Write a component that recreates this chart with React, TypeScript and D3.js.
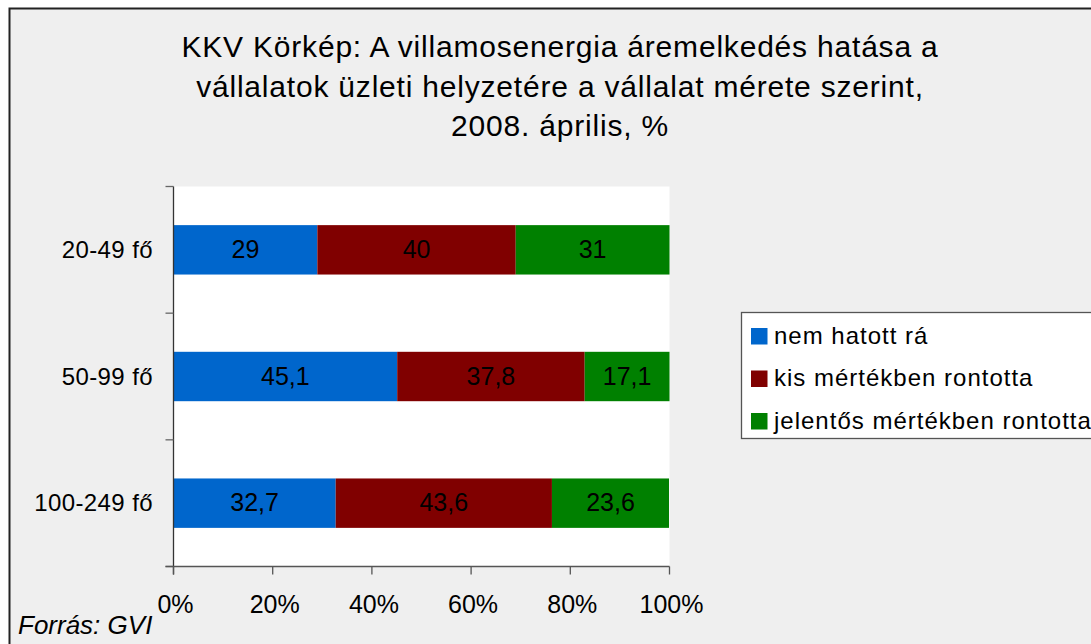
import React, { useRef, useEffect } from 'react';
import * as d3 from 'd3';

const categories = ['20-49 fő', '50-99 fő', '100-249 fő'];
const seriesNames = ['nem hatott rá', 'kis mértékben rontotta', 'jelentős mértékben rontotta'];
const nemHatott = [29, 45.1, 32.7];
const kisMertekben = [40, 37.8, 43.6];
const jelentos = [31, 17.1, 23.6];
const xTicks = [0, 20, 40, 60, 80, 100];
const titleLines = [
  'KKV Körkép: A villamosenergia áremelkedés hatása a',
  'vállalatok üzleti helyzetére a vállalat mérete szerint,',
  '2008. április, %',
];
const colors = ['#0066cc', '#800000', '#008000'];

const W = 1091;
const H = 644;

function App() {
  const ref = useRef<SVGSVGElement | null>(null);

  useEffect(() => {
    drawChart();
  }, []);

  function drawChart() {
    const svg = d3.select(ref.current);
    svg.selectAll('*').remove();
    const font = '"Liberation Sans", Arial, sans-serif';

    // frame + background
    svg.append('rect')
      .attr('x', 9.5).attr('y', 8.5)
      .attr('width', W + 20).attr('height', H + 20)
      .attr('fill', '#efefef')
      .attr('stroke', '#222')
      .attr('stroke-width', 2);

    // title
    svg.append('g').selectAll('text')
      .data(titleLines)
      .join('text')
      .attr('x', 560)
      .attr('y', (d, i) => 57 + i * 39.5)
      .attr('text-anchor', 'middle')
      .attr('font-family', font)
      .attr('font-size', 30)
      .attr('letter-spacing', 0.8)
      .attr('fill', '#000')
      .text(d => d);

    const margin = { left: 173.5, right: 669.5, top: 186.5, bottom: 566.5 };

    const xScale = d3.scaleLinear().domain([0, 100]).range([margin.left, margin.right]);
    const yScale = d3.scaleBand<string>().domain(categories).range([margin.top, margin.bottom]);
    const barH = yScale.bandwidth() * 0.39;

    // plot area
    svg.append('rect')
      .attr('x', margin.left).attr('y', margin.top)
      .attr('width', margin.right - margin.left)
      .attr('height', margin.bottom - margin.top)
      .attr('fill', '#fff');

    const rows = categories.map((c, i) => ({ cat: c, vals: [nemHatott[i], kisMertekben[i], jelentos[i]] }));
    const stacked = d3.stack<any>().keys(['0', '1', '2'])(rows.map(r => ({ cat: r.cat, 0: r.vals[0], 1: r.vals[1], 2: r.vals[2] })));

    const fmt = (v: number) => String(v).replace('.', ',');

    stacked.forEach((layer, si) => {
      const g = svg.append('g');
      g.selectAll('rect')
        .data(layer)
        .join('rect')
        .attr('x', d => xScale(d[0]))
        .attr('y', d => (yScale(d.data.cat) as number) + (yScale.bandwidth() - barH) / 2)
        .attr('width', d => xScale(d[1]) - xScale(d[0]))
        .attr('height', barH)
        .attr('fill', colors[si]);
      g.selectAll('text')
        .data(layer)
        .join('text')
        .attr('x', d => (xScale(d[0]) + xScale(d[1])) / 2)
        .attr('y', d => (yScale(d.data.cat) as number) + yScale.bandwidth() / 2 + 8)
        .attr('text-anchor', 'middle')
        .attr('font-family', font)
        .attr('font-size', 25)
        .attr('fill', '#000')
        .text(d => fmt(d.data[si]));
    });

    // y axis
    const yAxis = svg.append('g');
    yAxis.append('line')
      .attr('x1', margin.left).attr('x2', margin.left)
      .attr('y1', margin.top).attr('y2', margin.bottom + 8)
      .attr('stroke', '#333').attr('stroke-width', 1.3);
    const bounds = [0, 1, 2, 3].map(i => margin.top + i * yScale.step());
    yAxis.selectAll('line.tick')
      .data(bounds)
      .join('line')
      .attr('class', 'tick')
      .attr('x1', margin.left - 8).attr('x2', margin.left)
      .attr('y1', d => d).attr('y2', d => d)
      .attr('stroke', '#666').attr('stroke-width', 1.3);
    yAxis.selectAll('text')
      .data(categories)
      .join('text')
      .attr('x', 153)
      .attr('y', d => (yScale(d) as number) + yScale.bandwidth() / 2 + 8)
      .attr('text-anchor', 'end')
      .attr('font-family', font)
      .attr('font-size', 24)
      .attr('letter-spacing', 0.4)
      .text(d => d);

    // x axis
    const xAxis = svg.append('g');
    xAxis.append('line')
      .attr('x1', margin.left - 8).attr('x2', margin.right)
      .attr('y1', margin.bottom).attr('y2', margin.bottom)
      .attr('stroke', '#555').attr('stroke-width', 1.3);
    xAxis.selectAll('line.tick')
      .data(xTicks)
      .join('line')
      .attr('class', 'tick')
      .attr('x1', d => xScale(d)).attr('x2', d => xScale(d))
      .attr('y1', margin.bottom).attr('y2', margin.bottom + 8)
      .attr('stroke', '#555').attr('stroke-width', 1.3);
    xAxis.selectAll('text')
      .data(xTicks)
      .join('text')
      .attr('x', d => xScale(d) + 2)
      .attr('y', 613)
      .attr('text-anchor', 'middle')
      .attr('font-family', font)
      .attr('font-size', 25)
      .text(d => d + '%');

    // legend
    const lg = svg.append('g');
    lg.append('rect')
      .attr('x', 741.5).attr('y', 312.5)
      .attr('width', 400).attr('height', 126)
      .attr('fill', '#fff')
      .attr('stroke', '#555').attr('stroke-width', 1.3);
    const items = lg.selectAll('g')
      .data(seriesNames)
      .join('g')
      .attr('transform', (d, i) => `translate(751,${328 + i * 42.5})`);
    items.append('rect')
      .attr('width', 16.5).attr('height', 16.5)
      .attr('fill', (d, i) => colors[i]);
    items.append('text')
      .attr('x', 23).attr('y', 15.5)
      .attr('font-family', font)
      .attr('font-size', 24)
      .attr('letter-spacing', 1)
      .text(d => d);

    // source
    svg.append('text')
      .attr('x', 18).attr('y', 634)
      .attr('font-family', font)
      .attr('font-size', 26)
      .attr('font-style', 'italic')
      .text('Forrás: GVI');
  }

  return (
    <div style={{ position: 'absolute', left: 0, top: 0 }}>
      <svg ref={ref} width={W} height={H} style={{ display: 'block', background: '#fff' }} />
    </div>
  );
}

export default App;
